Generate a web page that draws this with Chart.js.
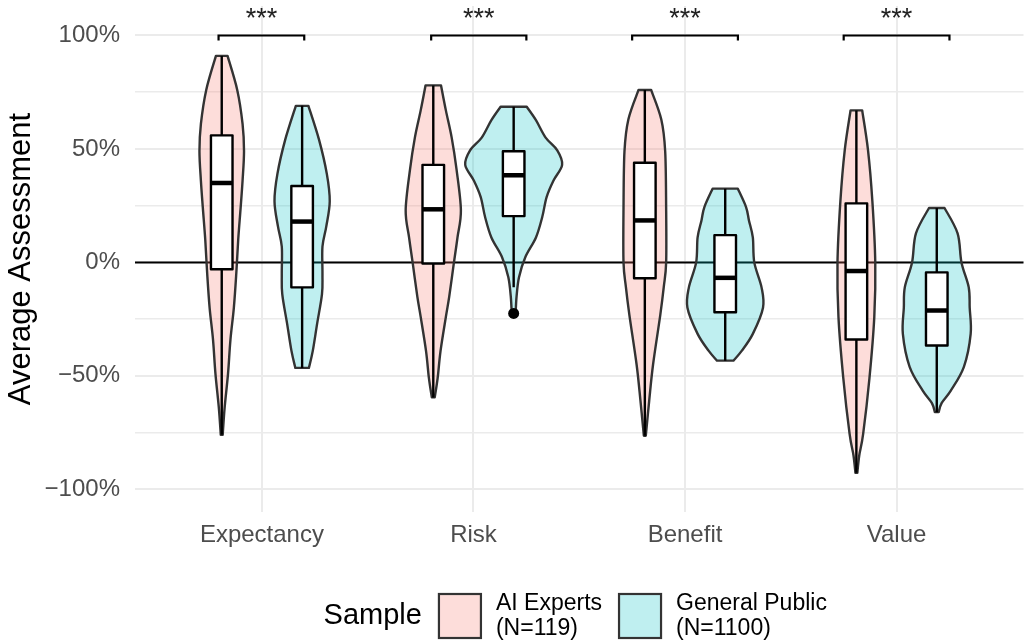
<!DOCTYPE html>
<html>
<head>
<meta charset="utf-8">
<script src="https://cdn.jsdelivr.net/npm/chart.js@4/dist/chart.umd.min.js"></script>
<style>
  html, body { margin: 0; padding: 0; background: #fff; }
</style>
</head>
<body>
<canvas id="myChart" width="1029" height="641"></canvas>
<script>
const categories = ['Expectancy', 'Risk', 'Benefit', 'Value'];
const sampleNames = ['AI Experts', 'General Public'];
const sampleSizes = [119, 1100];
const yGridLevels = [-100, -75, -50, -25, 0, 25, 50, 75, 100];

// violin outlines, top to bottom: assessment level (%) and relative density
const expertsLevels = [
  [91, 76, 61, 49, 36, 24, 10, -5, -20, -34, -49, -64, -76],
  [78, 67, 55, 41, 23, 11, -1, -15, -24, -39, -51, -59.5],
  [76, 63, 49, 24, 0, -11, -23, -45, -61, -76.4],
  [67, 49.5, 27, 0, -24, -51, -75.6, -85, -92.7]
];
const expertsDensity = [
  [0.12, 0.32, 0.43, 0.46, 0.43, 0.39, 0.34, 0.30, 0.25, 0.18, 0.13, 0.06, 0.02],
  [0.16, 0.26, 0.38, 0.48, 0.57, 0.50, 0.42, 0.33, 0.26, 0.15, 0.09, 0.03],
  [0.13, 0.34, 0.42, 0.44, 0.44, 0.39, 0.32, 0.17, 0.09, 0.02],
  [0.12, 0.24, 0.33, 0.39, 0.37, 0.27, 0.14, 0.06, 0.02]
];
const publicLevels = [
  [69, 54, 39, 27, 16, 7, -5, -14, -27, -39, -46.5],
  [68.6, 62.7, 55, 49.4, 43, 36, 28.8, 20, 11, 2.3, -6.5, -15, -22.5],
  [32.5, 24.4, 18.5, 11, 0, -11, -20, -31.5, -39, -43.3],
  [24, 12.8, 0, -11, -20, -31.5, -46, -56.5, -62, -66]
];
const publicDensity = [
  [0.13, 0.35, 0.51, 0.57, 0.50, 0.42, 0.42, 0.41, 0.31, 0.22, 0.14],
  [0.27, 0.46, 0.66, 0.90, 1.00, 0.82, 0.68, 0.59, 0.46, 0.24, 0.11, 0.06, 0.04],
  [0.26, 0.43, 0.49, 0.57, 0.60, 0.75, 0.78, 0.57, 0.34, 0.17],
  [0.16, 0.43, 0.51, 0.66, 0.68, 0.70, 0.56, 0.29, 0.10, 0.04]
];

// boxplots: lower whisker, q1, median, q3, upper whisker
const expertsBox = [
  [-76, -3, 35, 56, 91],
  [-59.5, -0.5, 23.4, 43, 78],
  [-76.4, -7, 18.5, 43.9, 76],
  [-92.7, -34, -3.8, 26, 67]
];
const publicBox = [
  [-46.5, -11, 18, 33.7, 69],
  [-11, 20.4, 38.4, 49, 68.6],
  [-43.3, -22, -6.8, 12, 32.5],
  [-66, -36.6, -21.2, -4.4, 24]
];
const publicOutliers = [[], [-22.5], [], []];

// significance brackets: offsets from category centre, label
const bracketStart = [-0.205, -0.2, -0.25, -0.25];
const bracketEnd = [0.2, 0.25, 0.25, 0.25];
const bracketText = ['***', '***', '***', '***'];
const bracketLevel = 100;
const bracketTip = 97.8;

const fills = ['rgba(248,118,109,0.25)', 'rgba(0,191,196,0.25)'];
const dodge = 0.19;
const boxHalf = 0.051;
const violinMax = 0.229;
const FONT = 'Liberation Sans, Arial, sans-serif';

function curve(ctx, pts, first) {
  if (first) ctx.moveTo(pts[0].x, pts[0].y);
  else ctx.lineTo(pts[0].x, pts[0].y);
  for (let i = 0; i < pts.length - 1; i++) {
    const p0 = pts[i - 1] || pts[i], p1 = pts[i], p2 = pts[i + 1], p3 = pts[i + 2] || p2;
    ctx.bezierCurveTo(
      p1.x + (p2.x - p0.x) / 6, p1.y + (p2.y - p0.y) / 6,
      p2.x - (p3.x - p1.x) / 6, p2.y - (p3.y - p1.y) / 6,
      p2.x, p2.y);
  }
}

const violinPlugin = {
  id: 'violins',
  beforeDatasetsDraw(chart) {
    const { ctx, chartArea: a, scales: { x, y } } = chart;
    ctx.save();
    // zero line
    ctx.strokeStyle = '#000';
    ctx.lineWidth = 2;
    ctx.beginPath();
    ctx.moveTo(a.left, y.getPixelForValue(0));
    ctx.lineTo(a.right, y.getPixelForValue(0));
    ctx.stroke();

    const groups = [
      { levels: expertsLevels, dens: expertsDensity, box: expertsBox, off: -dodge, fill: fills[0] },
      { levels: publicLevels, dens: publicDensity, box: publicBox, off: dodge, fill: fills[1] }
    ];
    categories.forEach((c, i) => {
      groups.forEach(g => {
        const cx = i + 1 + g.off;
        const right = g.levels[i].map((v, k) => ({ x: x.getPixelForValue(cx + g.dens[i][k] * violinMax), y: y.getPixelForValue(v) }));
        const left = g.levels[i].map((v, k) => ({ x: x.getPixelForValue(cx - g.dens[i][k] * violinMax), y: y.getPixelForValue(v) })).reverse();
        ctx.beginPath();
        curve(ctx, right, true);
        curve(ctx, left, false);
        ctx.closePath();
        ctx.fillStyle = g.fill;
        ctx.fill();
        ctx.strokeStyle = '#333333';
        ctx.lineWidth = 2.4;
        ctx.lineJoin = 'round';
        ctx.stroke();
      });
    });

    // boxplots
    categories.forEach((c, i) => {
      groups.forEach(g => {
        const cx = i + 1 + g.off;
        const b = g.box[i];
        const px = x.getPixelForValue(cx);
        const xl = x.getPixelForValue(cx - boxHalf), xr = x.getPixelForValue(cx + boxHalf);
        ctx.strokeStyle = '#000';
        ctx.lineWidth = 2.4;
        ctx.beginPath();
        ctx.moveTo(px, y.getPixelForValue(b[0]));
        ctx.lineTo(px, y.getPixelForValue(b[1]));
        ctx.moveTo(px, y.getPixelForValue(b[3]));
        ctx.lineTo(px, y.getPixelForValue(b[4]));
        ctx.stroke();
        const top = y.getPixelForValue(b[3]), bot = y.getPixelForValue(b[1]);
        ctx.fillStyle = '#fff';
        ctx.fillRect(xl, top, xr - xl, bot - top);
        ctx.strokeRect(xl, top, xr - xl, bot - top);
        ctx.lineWidth = 4.5;
        ctx.beginPath();
        ctx.moveTo(xl, y.getPixelForValue(b[2]));
        ctx.lineTo(xr, y.getPixelForValue(b[2]));
        ctx.stroke();
      });
    });

    // significance brackets
    categories.forEach((c, i) => {
      const x1 = x.getPixelForValue(i + 1 + bracketStart[i]);
      const x2 = x.getPixelForValue(i + 1 + bracketEnd[i]);
      const yb = y.getPixelForValue(bracketLevel), yt = y.getPixelForValue(bracketTip);
      ctx.strokeStyle = '#000';
      ctx.lineWidth = 2.2;
      ctx.lineJoin = 'miter';
      ctx.beginPath();
      ctx.moveTo(x1, yt);
      ctx.lineTo(x1, yb);
      ctx.lineTo(x2, yb);
      ctx.lineTo(x2, yt);
      ctx.stroke();
      ctx.fillStyle = '#222';
      ctx.font = '27px ' + FONT;
      ctx.textAlign = 'center';
      ctx.textBaseline = 'alphabetic';
      ctx.fillText(bracketText[i], (x1 + x2) / 2, yb - 8);
    });
    ctx.restore();
  },
  afterDraw(chart) {
    const { ctx, chartArea: a } = chart;
    ctx.save();
    const cy = 616, gapA = 17, gapB = 15, key = 42;
    ctx.font = '29px ' + FONT;
    const titleW = ctx.measureText('Sample').width;
    ctx.font = '23px ' + FONT;
    const labelW = sampleNames.map((n, k) => Math.max(ctx.measureText(n).width, ctx.measureText('(N=' + sampleSizes[k] + ')').width));
    const total = titleW + (gapA + key + gapB) * 2 + labelW[0] + labelW[1];
    let px = (a.left + a.right) / 2 - total / 2 - 4;
    ctx.fillStyle = '#000';
    ctx.textAlign = 'left';
    ctx.textBaseline = 'middle';
    ctx.font = '29px ' + FONT;
    ctx.fillText('Sample', px, cy);
    px += titleW;
    sampleNames.forEach((n, k) => {
      px += gapA;
      ctx.fillStyle = fills[k];
      ctx.fillRect(px, cy - 22, key, 44);
      ctx.strokeStyle = '#333333';
      ctx.lineWidth = 2.2;
      ctx.strokeRect(px, cy - 22, key, 44);
      px += key + gapB;
      ctx.fillStyle = '#000';
      ctx.font = '23px ' + FONT;
      ctx.fillText(n, px, cy - 12);
      ctx.fillText('(N=' + sampleSizes[k] + ')', px, cy + 13);
      px += labelW[k];
    });
    ctx.restore();
  }
};

const outlierPoints = [];
publicOutliers.forEach((list, i) => list.forEach(v => outlierPoints.push({ x: i + 1 + dodge, y: v })));

const ctx = document.getElementById('myChart').getContext('2d');
const myChart = new Chart(ctx, {
  type: 'scatter',
  data: {
    datasets: [
      {
        label: 'outliers',
        data: outlierPoints,
        backgroundColor: '#000',
        borderWidth: 0,
        pointRadius: 5.5,
      },
    ],
  },
  options: {
    responsive: false,
    animation: false,
    events: [],
    layout: { padding: { top: 6, right: 0, bottom: 0, left: 0 } },
    plugins: { legend: { display: false }, tooltip: { enabled: false } },
    scales: {
      x: {
        type: 'linear',
        min: 0.4,
        max: 4.6,
        afterBuildTicks: (axis) => { axis.ticks = categories.map((c, i) => ({ value: i + 1 })); },
        afterFit: (axis) => {
          axis.height = 129;
          axis.paddingLeft = 0;
          axis.paddingRight = 0;
        },
        ticks: {
          callback: (v) => categories[v - 1],
          font: { family: FONT, size: 24 },
          color: '#4D4D4D',
          padding: 9,
          maxRotation: 0,
        },
        grid: { color: '#EBEBEB', lineWidth: 2, drawTicks: false },
        border: { display: false },
      },
      y: {
        type: 'linear',
        min: -110,
        max: 113,
        afterBuildTicks: (axis) => { axis.ticks = yGridLevels.map(v => ({ value: v })); },
        afterFit: (axis) => {
          axis.width = 135;
          axis.paddingTop = 0;
          axis.paddingBottom = 0;
        },
        ticks: {
          callback: (v) => (v % 50 === 0 ? (v < 0 ? '\u2212' + Math.abs(v) : v) + '%' : ''),
          font: { family: FONT, size: 24 },
          color: '#4D4D4D',
          padding: 15,
        },
        grid: {
          color: '#EBEBEB',
          lineWidth: (c) => (c.tick && c.tick.value % 50 === 0 ? 2 : 1.5),
          drawTicks: false,
        },
        border: { display: false },
        title: {
          display: true,
          text: 'Average Assessment',
          color: '#000',
          font: { family: FONT, size: 31 },
          padding: { top: 3, bottom: 4 },
        },
      },
    },
  },
  plugins: [violinPlugin],
});
</script>
</body>
</html>
